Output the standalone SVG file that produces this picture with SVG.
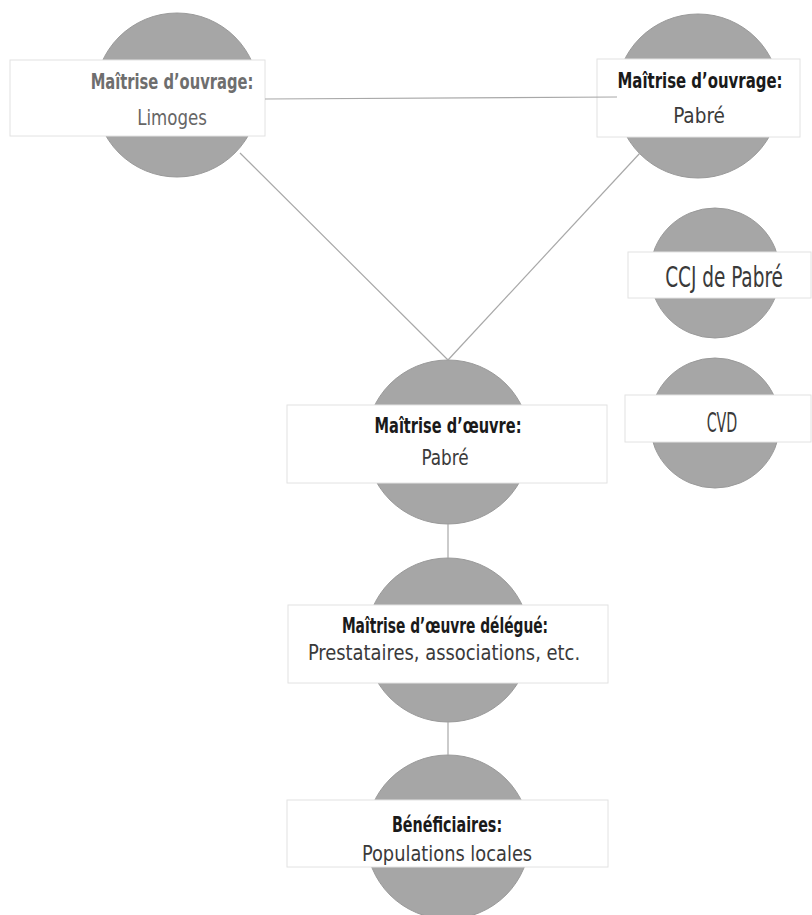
<svg xmlns="http://www.w3.org/2000/svg" width="812" height="915" viewBox="0 0 812 915">
<style>
.bg{fill:#ffffff}
.c{fill:#a6a6a6;stroke:#9a9a9a;stroke-width:1}
.band{fill:#ffffff;stroke:#e2e2e2;stroke-width:1}
.ln{stroke:#a8a8a8;stroke-width:1.2;fill:none}
text{font-family:"DejaVu Sans Condensed","DejaVu Sans","Liberation Sans",sans-serif;text-anchor:middle;font-stretch:condensed}
.t{font-size:22px;font-weight:bold;fill:#1a1a1a}
.tg{font-size:22px;font-weight:bold;fill:#6e6e6e}
.s{font-size:22px;fill:#3a3a3a}
.sg{font-size:22px;fill:#666666}
</style>
<rect class="bg" x="0" y="0" width="812" height="915"/>
<g id="node-limoges">
<circle class="c" cx="177" cy="95" r="82"/>
<rect class="band" x="10" y="60" width="255" height="76"/>
<text class="tg" transform="translate(172 89) scale(0.75 1)" textLength="217" lengthAdjust="spacingAndGlyphs">Maîtrise d’ouvrage:</text>
<text class="sg" transform="translate(172 125) scale(0.75 1)" textLength="93" lengthAdjust="spacingAndGlyphs">Limoges</text>
</g>
<g id="node-pabre-ouvrage">
<circle class="c" cx="698" cy="96" r="82"/>
<rect class="band" x="597" y="59" width="203" height="78"/>
<text class="t" transform="translate(700 88) scale(0.75 1)" textLength="220" lengthAdjust="spacingAndGlyphs">Maîtrise d’ouvrage:</text>
<text class="s" transform="translate(699 123) scale(0.75 1)" textLength="69" lengthAdjust="spacingAndGlyphs">Pabré</text>
</g>
<g id="node-ccj">
<circle class="c" cx="715" cy="273" r="65"/>
<rect class="band" x="628" y="252" width="183" height="46"/>
<text class="s" transform="translate(724 287) scale(0.75 1)" textLength="157" lengthAdjust="spacingAndGlyphs" style="font-size:29px">CCJ de Pabré</text>
</g>
<g id="node-cvd">
<circle class="c" cx="715" cy="423" r="65"/>
<rect class="band" x="625" y="395" width="186" height="47"/>
<text class="s" transform="translate(722 432) scale(0.75 1)" textLength="41" lengthAdjust="spacingAndGlyphs" style="font-size:27px">CVD</text>
</g>
<g id="node-oeuvre">
<circle class="c" cx="448" cy="442" r="82"/>
<rect class="band" x="287" y="405" width="320" height="78"/>
<text class="t" transform="translate(448 433) scale(0.75 1)" textLength="196" lengthAdjust="spacingAndGlyphs">Maîtrise d’œuvre:</text>
<text class="s" transform="translate(445 465) scale(0.75 1)" textLength="63" lengthAdjust="spacingAndGlyphs">Pabré</text>
</g>
<g id="node-delegue">
<circle class="c" cx="448" cy="640" r="82"/>
<rect class="band" x="288" y="605" width="320" height="78"/>
<text class="t" transform="translate(445 633) scale(0.75 1)" textLength="275" lengthAdjust="spacingAndGlyphs" style="font-size:21px">Maîtrise d’œuvre délégué:</text>
<text class="s" transform="translate(444 660) scale(0.75 1)" textLength="363" lengthAdjust="spacingAndGlyphs" style="font-size:21px">Prestataires, associations, etc.</text>
</g>
<g id="node-beneficiaires">
<circle class="c" cx="448" cy="837" r="82"/>
<rect class="band" x="287" y="800" width="321" height="67"/>
<text class="t" transform="translate(447 832) scale(0.75 1)" textLength="147" lengthAdjust="spacingAndGlyphs">Bénéficiaires:</text>
<text class="s" transform="translate(447 861) scale(0.75 1)" textLength="227" lengthAdjust="spacingAndGlyphs">Populations locales</text>
</g>
<g id="connectors">
<line class="ln" x1="265" y1="99" x2="617" y2="97"/>
<line class="ln" x1="240" y1="153" x2="448" y2="360"/>
<line class="ln" x1="640" y1="153" x2="448" y2="360"/>
<line class="ln" x1="448" y1="524" x2="448" y2="558"/>
<line class="ln" x1="448" y1="722" x2="448" y2="755"/>
</g>
</svg>
